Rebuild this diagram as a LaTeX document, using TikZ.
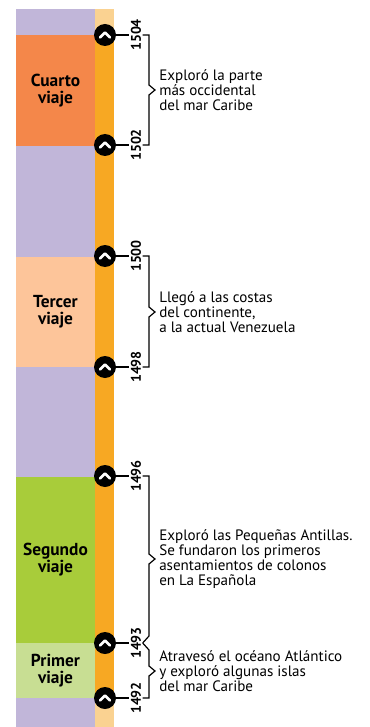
\documentclass[tikz,border=0pt]{standalone}
\usepackage{fontspec}
\setmainfont{PT Sans}
\usetikzlibrary{calc}
\definecolor{lavender}{HTML}{C1B6D9}
\definecolor{cuartocol}{HTML}{F4874A}
\definecolor{tercercol}{HTML}{FDC59A}
\definecolor{segundocol}{HTML}{A8CC3A}
\definecolor{primercol}{HTML}{C8DE93}
\definecolor{barcol}{HTML}{F7A823}
\definecolor{barlight}{HTML}{FAD291}

\begin{document}
\begin{tikzpicture}[
            x=0.75pt, y=-0.75pt,
            lbl/.style={font=\bfseries\fontsize{13}{12.8}\selectfont, align=center, inner sep=0pt},
            dot/.style={circle, fill=black, minimum size=16.5pt, inner sep=0pt},
            chev/.style={white, line width=2pt, line cap=round, line join=round},
            year/.style={rotate=90, font=\bfseries\fontsize{10.5}{12}\selectfont, inner sep=1pt},
            note/.style={anchor=west, align=left, inner sep=0pt, font=\fontsize{11.3}{11.4}\selectfont},
            conn/.style={line width=0.9pt},
            brk/.style={line width=0.9pt, line join=miter},
        ]
            \useasboundingbox (0,0) rectangle (370,727);

            % Column of voyages
            \fill[lavender]   (16,9)   rectangle (95,727);
            \fill[cuartocol]  (16,35)  rectangle (95,146);
            \fill[tercercol]  (16,257) rectangle (95,367);
            \fill[segundocol] (16,477) rectangle (95,643);
            \fill[primercol]  (16,643) rectangle (95,698);

            % Time bar
            \fill[barlight] (95,9)  rectangle (114,727);
            \fill[barcol]   (95,35) rectangle (114,698);

            \node[lbl] (cuarto)  at (55.5,91)  {Cuarto\\viaje};
            \node[lbl] (tercer)  at (55.5,312) {Tercer\\viaje};
            \node[lbl] (segundo) at (55.5,560) {Segundo\\viaje};
            \node[lbl] (primer)  at (55.5,671) {Primer\\viaje};

            % Year markers
            \foreach \yr/\yy in {1504/35, 1502/145, 1500/256, 1498/367, 1496/476, 1493/643, 1492/698} {
                \node[dot] (c\yr) at (105,\yy) {};
                \draw[chev] ($(c\yr)+(-5,2.5)$) -- ($(c\yr)+(0,-2.5)$) -- ($(c\yr)+(5,2.5)$);
                \node[year] (y\yr) at (136,\yy) {\yr};
                \draw[conn] (c\yr) -- (y\yr.north);
            }

            % Notes
            \node[note] (n4) at (159,90)  {Exploró la parte\\más occidental\\del mar Caribe};
            \node[note] (n3) at (159,312) {Llegó a las costas\\del continente,\\a la actual Venezuela};
            \node[note] (n2) at (159,559) {Exploró las Pequeñas Antillas.\\Se fundaron los primeros\\asentamientos de colonos\\en La Española};
            \node[note] (n1) at (159,671) {Atravesó el océano Atlántico\\y exploró algunas islas\\del mar Caribe};

            % Brackets
            \draw[brk] (y1504.south) -| ($(n4.west)+(-10,-5)$) -- ($(n4.west)+(-4,0)$) -- ($(n4.west)+(-10,5)$) |- (y1502.south);
            \draw[brk] (y1500.south) -| ($(n3.west)+(-10,-5)$) -- ($(n3.west)+(-4,0)$) -- ($(n3.west)+(-10,5)$) |- (y1498.south);
            \draw[brk] (y1496.south) -| ($(n2.west)+(-10,-5)$) -- ($(n2.west)+(-4,0)$) -- ($(n2.west)+(-10,5)$)
                -- ($(n2.west |- y1493.south)+(-10,-7)$) -- (y1493.south);
            \draw[brk] (y1493.south) -- ($(n1.west |- y1493.south)+(-10,7)$) -- ($(n1.west)+(-10,-5)$)
                -- ($(n1.west)+(-4,0)$) -- ($(n1.west)+(-10,5)$) |- (y1492.south);
        \end{tikzpicture}
\end{document}
